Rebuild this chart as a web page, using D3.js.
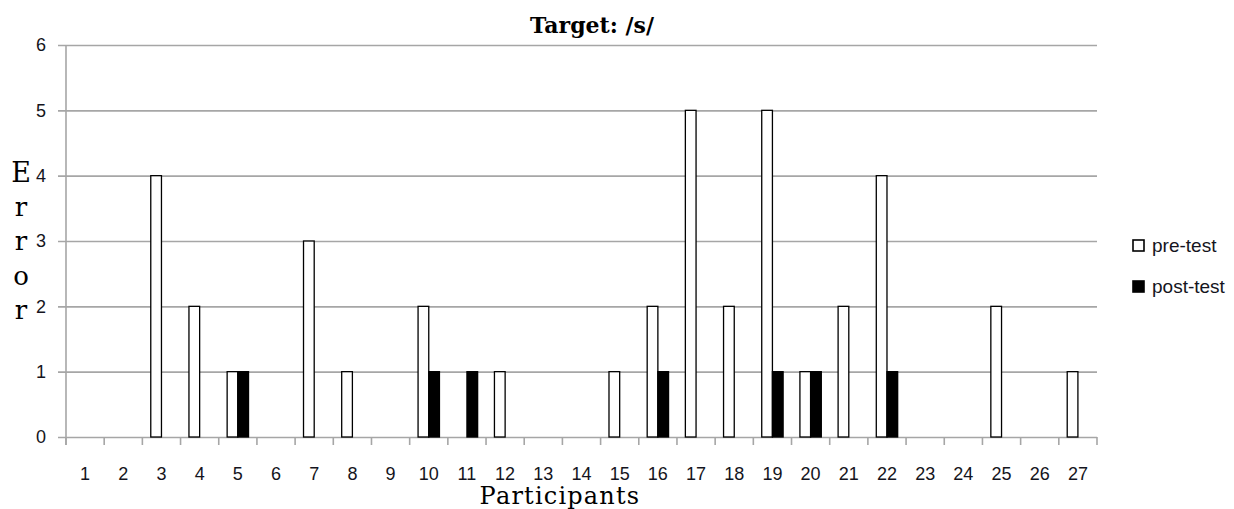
<!DOCTYPE html>
<html>
<head>
<meta charset="utf-8">
<script src="https://cdn.jsdelivr.net/npm/d3@7"></script>
<style>
  html, body { margin: 0; padding: 0; background: #fff; }
  svg { display: block; }
</style>
</head>
<body>
<svg id="chart" width="1234" height="509"></svg>
<script>
const categories = ["1","2","3","4","5","6","7","8","9","10","11","12","13","14","15","16","17","18","19","20","21","22","23","24","25","26","27"];
const preTest  = [0,0,4,2,1,0,3,1,0,2,0,1,0,0,1,2,5,2,5,1,2,4,0,0,2,0,1];
const postTest = [0,0,0,0,1,0,0,0,0,1,1,0,0,0,0,1,0,0,1,1,0,1,0,0,0,0,0];
const yTicks = [0,1,2,3,4,5,6];
const seriesNames = ["pre-test","post-test"];
const titleText = "Target: /s/";
const xTitle = "Participants";
const yTitleLetters = ["E","r","r","o","r"];

const svg = d3.select("#chart");
const L = 66, R = 1097, T = 45, B = 437;
const gridColor = "#a6a6a6";
const sansFont = "'Liberation Sans', Arial, sans-serif";
const serifFont = "'DejaVu Serif', serif";

const x = d3.scaleBand().domain(categories).range([L, R]).padding(0);
const groupFrac = 0.56;
const x1 = d3.scaleBand().domain(seriesNames).range([0, x.bandwidth() * groupFrac]);
const y = d3.scaleLinear().domain([0, 6]).range([B, T]);

// Y axis with gridlines
const yAxis = svg.append("g").attr("transform", `translate(${L},0)`)
  .call(d3.axisLeft(y).tickValues(yTicks).tickFormat(d3.format("d")).tickSizeInner(-(R - L)).tickSizeOuter(0).tickPadding(20));
yAxis.select(".domain").remove();
yAxis.selectAll(".tick line").attr("x1", -8).attr("stroke", gridColor).attr("stroke-width", 1.6);
yAxis.selectAll(".tick text").attr("font-family", sansFont).attr("font-size", 18).attr("fill", "#141420").attr("x", -20);

// vertical axis line
svg.append("line").attr("x1", L).attr("x2", L).attr("y1", y(6)).attr("y2", B + 8)
  .attr("stroke", gridColor).attr("stroke-width", 1.6);

// X axis boundary ticks
const bounds = categories.map(c => x(c)).concat([x(categories[categories.length - 1]) + x.bandwidth()]);
svg.append("g").selectAll("line").data(bounds).join("line")
  .attr("x1", d => d).attr("x2", d => d).attr("y1", B).attr("y2", B + 8)
  .attr("stroke", gridColor).attr("stroke-width", 1.6);

// X labels
const xAxis = svg.append("g").attr("transform", `translate(0,${B})`)
  .call(d3.axisBottom(x).tickSize(0).tickPadding(30));
xAxis.select(".domain").remove();
xAxis.selectAll(".tick text").attr("font-family", sansFont).attr("font-size", 18).attr("fill", "#141420");

// Bars
const data = categories.map((c, i) => ({ c, vals: [{ k: "pre-test", v: preTest[i] }, { k: "post-test", v: postTest[i] }] }));
const off = x.bandwidth() * (1 - groupFrac) / 2;
svg.append("g").selectAll("g").data(data).join("g")
  .attr("transform", d => `translate(${x(d.c) + off},0)`)
  .selectAll("rect").data(d => d.vals.filter(e => e.v > 0)).join("rect")
  .attr("x", d => x1(d.k))
  .attr("width", x1.bandwidth())
  .attr("y", d => y(d.v))
  .attr("height", d => B - y(d.v))
  .attr("fill", d => d.k === "pre-test" ? "#ffffff" : "#000000")
  .attr("stroke", "#000").attr("stroke-width", 1.3);

// Title
svg.append("text").attr("x", 592).attr("y", 33).attr("text-anchor", "middle")
  .attr("font-family", serifFont).attr("font-weight", "bold").attr("font-size", 22)
  .attr("fill", "#000").text(titleText);

// X title
svg.append("text").attr("x", 560).attr("y", 504).attr("text-anchor", "middle")
  .attr("font-family", serifFont).attr("font-size", 24).attr("letter-spacing", 1.2)
  .attr("fill", "#000").text(xTitle);

// Y title letters stacked
svg.append("g").selectAll("text").data(yTitleLetters).join("text")
  .attr("x", 21).attr("y", (d, i) => 182 + i * 34.2).attr("text-anchor", "middle")
  .attr("font-family", serifFont).attr("font-size", (d, i) => i === 0 ? 27 : 26)
  .attr("fill", "#000").text(d => d);

// Legend
const leg = svg.append("g").selectAll("g").data(seriesNames).join("g")
  .attr("transform", (d, i) => `translate(1132,${239 + i * 41})`);
leg.append("rect").attr("x", 1).attr("y", 1).attr("width", 11).attr("height", 11)
  .attr("fill", (d, i) => i === 0 ? "#fff" : "#000").attr("stroke", "#000").attr("stroke-width", 1.6);
leg.append("text").attr("x", 20).attr("y", 13).attr("font-family", sansFont).attr("font-size", 19)
  .attr("fill", "#141420").text(d => d);
</script>
</body>
</html>
